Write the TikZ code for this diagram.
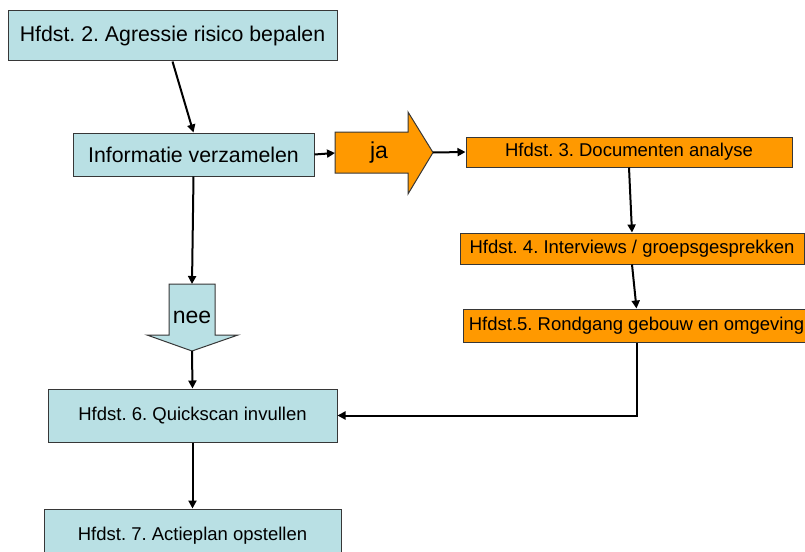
\documentclass[tikz,border=0pt]{standalone}
\usepackage{fontspec}
\setmainfont{Liberation Sans}
\usetikzlibrary{arrows.meta}
\definecolor{lblue}{RGB}{185,224,228}
\definecolor{orng}{RGB}{255,153,0}
\definecolor{bord}{RGB}{55,55,55}
\frenchspacing
\tikzset{
  boxbase/.style={draw=bord, line width=1pt, inner sep=0pt, rectangle},
  bluebox/.style={boxbase, fill=lblue},
  orangebox/.style={boxbase, fill=orng},
  bigtext/.style={font=\fontsize{21.3}{24}\selectfont},
  smalltext/.style={font=\fontsize{18.5}{21}\selectfont},
  arrtext/.style={font=\fontsize{23}{26}\selectfont, inner sep=0pt},
  conn/.style={line width=2pt, -{Triangle[length=8pt,width=8pt]}},
  shapearrow/.style={draw=bord, line width=1pt}
}
\begin{document}
\begin{tikzpicture}[x=1pt,y=-1pt]
\useasboundingbox (0,0) rectangle (805,551);

\node[bluebox, bigtext, minimum width=329pt, minimum height=50pt] (b1) at (172.5,36) {Hfdst. 2. Agressie risico bepalen};
\node[bluebox, bigtext, minimum width=241pt, minimum height=43pt] (b2) at (193.5,154.5) {Informatie verzamelen};
\node[orangebox, smalltext, minimum width=326pt, minimum height=30pt] (b3) at (629,152) {Hfdst. 3. Documenten analyse};
\node[orangebox, smalltext, minimum width=344pt, minimum height=31pt] (b4) at (632,248.5) {Hfdst. 4. Interviews / groepsgesprekken};
\node[orangebox, smalltext, minimum width=347pt, minimum height=33pt] (b5) at (636.5,325.5) {Hfdst.5. Rondgang gebouw en omgeving};
\node[bluebox, smalltext, minimum width=289pt, minimum height=53pt] (b6) at (192.5,415.5) {Hfdst. 6. Quickscan invullen};
\node[bluebox, smalltext, minimum width=297pt, minimum height=53pt] (b7) at (192.5,535.5) {Hfdst. 7. Actieplan opstellen};

% ja arrow
\coordinate (jaL) at (335,153);
\coordinate (jaTip) at (433,152.5);
\filldraw[shapearrow, fill=orng] (335,132) -- (408,132) -- (408,112) -- (jaTip) -- (408,194) -- (408,173) -- (335,173) -- cycle;
\node[arrtext] (ja) at (379,153) {ja};

% nee arrow
\coordinate (neeTop) at (192,284);
\coordinate (neeTip) at (192,351);
\filldraw[shapearrow, fill=lblue] (169,284) -- (215,284) -- (215,335) -- (238,335) -- (neeTip) -- (147,335) -- (169,335) -- cycle;
\node[arrtext] (nee) at (192,317) {nee};

% connectors
\draw[conn] (b1.south) -- (b2.north);
\draw[conn] (b2.east) -- (jaL);
\draw[conn] (jaTip) -- (b3.west);
\draw[conn] (b3.south) -- (b4.north);
\draw[conn] (b4.south) -- (b5.north);
\draw[conn] (b5.south) |- (b6.east);
\draw[conn] (b2.south) -- (neeTop);
\draw[conn] (neeTip) -- (b6.north);
\draw[conn] (b6.south) -- (b7.north);
\end{tikzpicture}
\end{document}
